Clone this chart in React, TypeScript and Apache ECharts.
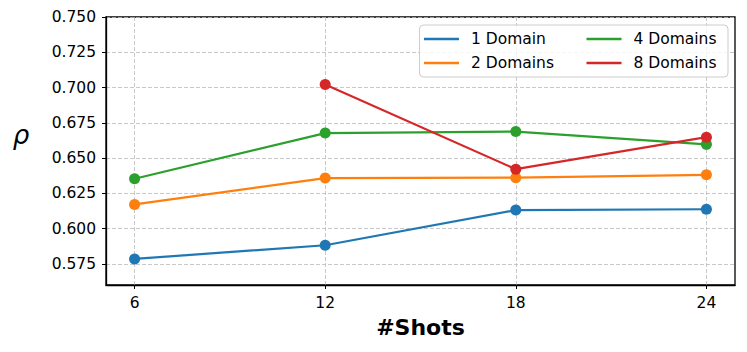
import React, { useEffect, useRef } from "react";
import * as echarts from "echarts";

const shots = [6, 12, 18, 24];
const domain1 = [0.5785, 0.5882, 0.6131, 0.6137];
const domain2 = [0.6171, 0.6358, 0.6361, 0.6381];
const domain4 = [0.6353, 0.6677, 0.6688, 0.6597];
const domain8: (number | null)[] = [null, 0.7022, 0.6421, 0.6648];
const yTicks = [0.575, 0.6, 0.625, 0.65, 0.675, 0.7, 0.725, 0.75];
const seriesNames = ["1 Domain", "2 Domains", "4 Domains", "8 Domains"];
const colors = ["#1f77b4", "#ff7f0e", "#2ca02c", "#d62728"];

const FONT = "DejaVu Sans";

function toPairs(vals: (number | null)[]) {
  return shots
    .map((x, i) => [x, vals[i]])
    .filter((p) => p[1] !== null);
}

export default function App() {
  const ref = useRef<HTMLDivElement>(null);
  useEffect(() => {
    if (!ref.current) return;
    const chart = echarts.init(ref.current, undefined, { renderer: "svg" });
    const all = [domain1, domain2, domain4, domain8];
    const legendCommon = {
      orient: "vertical",
      icon: "rect",
      itemWidth: 35,
      itemHeight: 2.5,
      itemGap: 6,
      padding: 0,
      textStyle: {
        fontFamily: FONT,
        fontSize: 15.5,
        color: "#000",
        lineHeight: 18,
        padding: [0, 0, 0, 7],
      },
      selectedMode: false,
    };
    chart.setOption({
      animation: false,
      color: colors,
      grid: {
        left: 106,
        top: 17,
        right: 12,
        bottom: 67,
        show: true,
        borderColor: "#000",
        borderWidth: 1.3,
        backgroundColor: "transparent",
      },
      xAxis: {
        type: "value",
        min: 5.1,
        max: 24.9,
        name: "#Shots",
        nameLocation: "middle",
        nameGap: 31,
        nameTextStyle: {
          fontFamily: FONT,
          fontSize: 22,
          fontWeight: "bold",
          color: "#000",
        },
        axisLine: { show: true, lineStyle: { color: "#000", width: 1.3 } },
        axisTick: { show: true, length: 4, customValues: shots, lineStyle: { color: "#000", width: 1 } },
        axisLabel: {
          customValues: shots,
          fontFamily: FONT,
          fontSize: 15.5,
          color: "#000",
          margin: 10,
        },
        splitLine: {
          show: true,
          lineStyle: { color: "#bbbbbb", type: [4, 2], width: 0.8 },
        },
      },
      yAxis: {
        type: "value",
        min: 0.56,
        max: 0.75,
        axisLine: { show: true, lineStyle: { color: "#000", width: 1.3 } },
        axisTick: { show: true, length: 4, customValues: yTicks, lineStyle: { color: "#000", width: 1 } },
        axisLabel: {
          customValues: yTicks,
          fontFamily: FONT,
          fontSize: 15.5,
          color: "#000",
          margin: 10,
          formatter: (v: number) => v.toFixed(3),
        },
        splitLine: {
          show: true,
          lineStyle: { color: "#bbbbbb", type: [4, 2], width: 0.8 },
        },
      },
      legend: [
        {
          ...legendCommon,
          left: 424,
          top: 30,
          data: [seriesNames[0], seriesNames[1]],
        },
        {
          ...legendCommon,
          left: 586.5,
          top: 30,
          data: [seriesNames[2], seriesNames[3]],
        },
      ],
      graphic: [
        {
          type: "rect",
          z: 3,
          shape: { x: 419.5, y: 25, width: 308.5, height: 52, r: 4 },
          style: { fill: "rgba(255,255,255,0.8)", stroke: "#cccccc", lineWidth: 1 },
        },
        {
          type: "text",
          x: 21,
          y: 135,
          style: {
            text: "ρ",
            font: `italic 26px "${FONT}"`,
            fill: "#000",
            textAlign: "center",
            textVerticalAlign: "middle",
          },
        },
      ],
      series: all.map((vals, i) => ({
        name: seriesNames[i],
        type: "line",
        data: toPairs(vals),
        symbol: "circle",
        symbolSize: 11,
        showSymbol: true,
        lineStyle: { width: 2.2, color: colors[i] },
        itemStyle: { color: colors[i] },
        z: 2,
      })),
    });
    return () => chart.dispose();
  }, []);
  return <div ref={ref} style={{ width: 747, height: 352, position: "absolute", left: 0, top: 0 }} />;
}
